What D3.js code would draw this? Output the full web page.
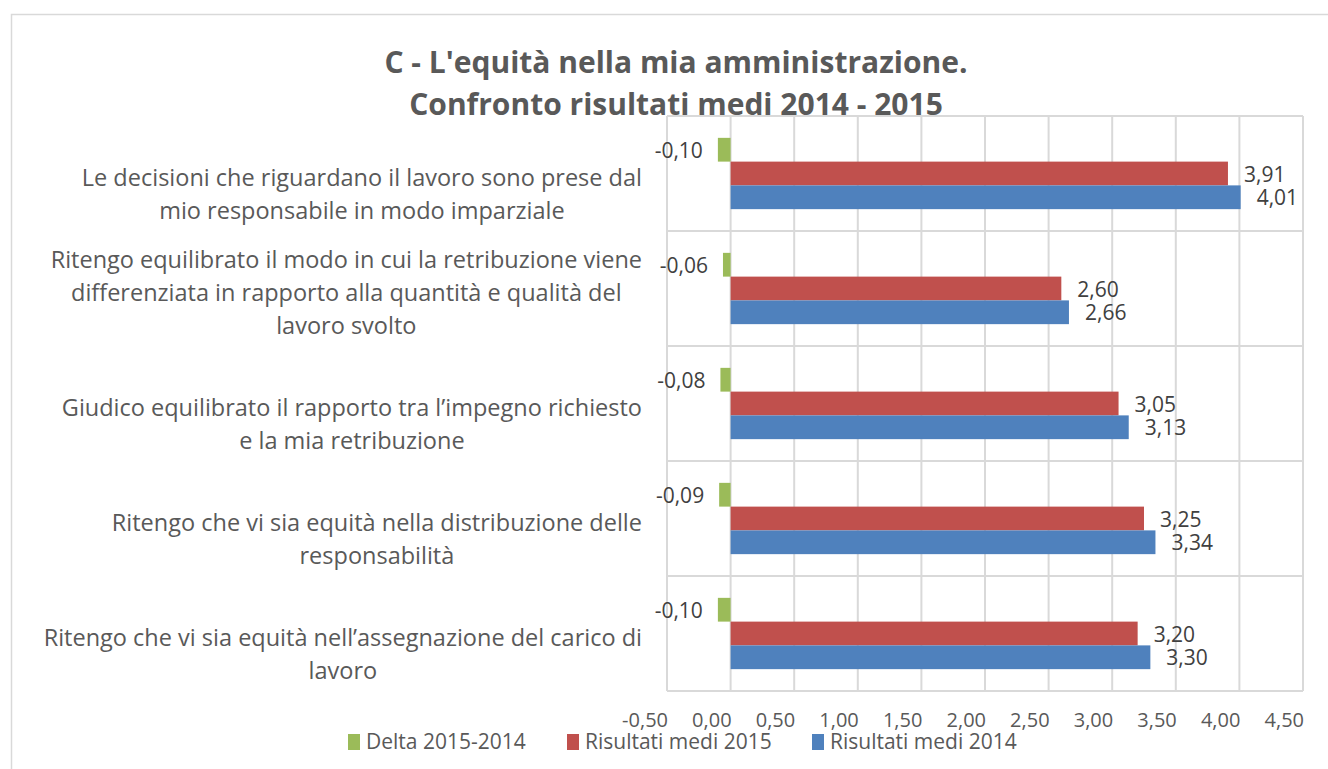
<!DOCTYPE html>
<html>
<head>
<meta charset="utf-8">
<script src="https://cdn.jsdelivr.net/npm/d3@7"></script>
<style>
  body { margin: 0; background: #fff; }
  text { font-family: "Open Sans", sans-serif; }
</style>
</head>
<body>
<script>
// dati
const categories = [
    ["Le decisioni che riguardano il lavoro sono prese dal", "mio responsabile in modo imparziale"],
    ["Ritengo equilibrato il modo in cui la retribuzione viene", "differenziata in rapporto alla quantità e qualità del", "lavoro svolto"],
    ["Giudico equilibrato il rapporto tra l’impegno richiesto", "e la mia retribuzione"],
    ["Ritengo che vi sia equità nella distribuzione delle", "responsabilità"],
    ["Ritengo che vi sia equità nell’assegnazione del carico di", "lavoro"]
]
const seriesNames = ["Delta 2015-2014", "Risultati medi 2015", "Risultati medi 2014"]
const delta = [-0.10, -0.06, -0.08, -0.09, -0.10]
const medi2015 = [3.91, 2.60, 3.05, 3.25, 3.20]
const medi2014 = [4.01, 2.66, 3.13, 3.34, 3.30]
const colors = ["#9BBB59", "#C0504D", "#4F81BD"]
const xDomain = [-0.5, 4.5]
const titleLines = ["C - L'equità nella mia amministrazione.", "Confronto risultati medi 2014 - 2015"]

const width = 1328, height = 769
const plot = { left: 667, right: 1303, top: 116, bottom: 691 }

const it = d3.formatLocale({ decimal: ",", thousands: ".", grouping: [3], currency: ["", "€"], minus: "-" })
const fmt = it.format(".2f")

const svg = d3.select("body").append("svg")
    .attr("width", width)
    .attr("height", height)

// cornice del grafico
svg.append("rect")
    .attr("x", 11.5).attr("y", 14.5)
    .attr("width", 1340).attr("height", 780)
    .attr("fill", "#fff")
    .attr("stroke", "#D9D9D9")
    .attr("stroke-width", 1.5)

const x = d3.scaleLinear().domain(xDomain).range([plot.left, plot.right])
const catIdx = d3.range(categories.length)
const y0 = d3.scaleBand().domain(catIdx).range([plot.top, plot.bottom])
const groupH = y0.bandwidth() * 0.62
const y1 = d3.scaleBand().domain(d3.range(seriesNames.length))
    .range([(y0.bandwidth() - groupH) / 2, (y0.bandwidth() + groupH) / 2])

// griglia
const ticks = d3.range(xDomain[0], xDomain[1] + 0.001, 0.5)
svg.append("g").selectAll("line")
    .data(ticks)
    .join("line")
    .attr("x1", d => x(d)).attr("x2", d => x(d))
    .attr("y1", plot.top).attr("y2", plot.bottom)
    .attr("stroke", "#D9D9D9")
    .attr("stroke-width", 2)

const bounds = catIdx.map(i => y0(i)).concat([plot.bottom])
svg.append("g").selectAll("line")
    .data(bounds)
    .join("line")
    .attr("x1", plot.left).attr("x2", plot.right)
    .attr("y1", d => d).attr("y2", d => d)
    .attr("stroke", "#D9D9D9")
    .attr("stroke-width", 2)

// etichette asse x (allineate a destra come nell'originale)
svg.append("g").selectAll("text")
    .data(ticks)
    .join("text")
    .attr("x", d => x(d) + 1)
    .attr("y", 727)
    .attr("text-anchor", "end")
    .attr("font-size", 20)
    .attr("fill", "#595959")
    .text(d => fmt(d))

// barre
const rows = catIdx.map(i => [delta[i], medi2015[i], medi2014[i]])
const groups = svg.append("g").selectAll("g")
    .data(rows)
    .join("g")
    .attr("transform", (d, i) => `translate(0, ${y0(i)})`)

groups.selectAll("rect")
    .data(d => d)
    .join("rect")
    .attr("x", d => x(Math.min(0, d)))
    .attr("y", (d, j) => y1(j))
    .attr("width", d => Math.abs(x(d) - x(0)))
    .attr("height", y1.bandwidth())
    .attr("fill", (d, j) => colors[j])

groups.selectAll("text")
    .data(d => d)
    .join("text")
    .attr("x", d => d < 0 ? x(d) - 15 : x(d) + 16)
    .attr("y", (d, j) => y1(j) + y1.bandwidth() / 2 + 8)
    .attr("text-anchor", d => d < 0 ? "end" : "start")
    .attr("font-size", 21)
    .attr("fill", "#404040")
    .text(d => fmt(d))

// etichette categorie: blocco allineato a destra, righe centrate, in basso nella fascia
const lineH = 33
categories.forEach((lines, i) => {
    const g = svg.append("g")
    const texts = g.selectAll("text")
        .data(lines)
        .join("text")
        .attr("font-size", 23.5)
        .attr("fill", "#595959")
        .attr("text-anchor", "middle")
        .text(d => d)
    let maxW = 0
    texts.each(function () { maxW = Math.max(maxW, this.getComputedTextLength()) })
    const cx = 642 - maxW / 2
    const lastY = y0(i) + y0.bandwidth() - 12
    texts.attr("x", cx)
        .attr("y", (d, k) => lastY - (lines.length - 1 - k) * lineH)
})

// titolo
svg.append("g").selectAll("text")
    .data(titleLines)
    .join("text")
    .attr("x", 676)
    .attr("y", (d, i) => 73 + i * 42)
    .attr("text-anchor", "middle")
    .attr("font-size", 30)
    .attr("font-weight", "bold")
    .attr("fill", "#595959")
    .text(d => d)

// legenda
const legendX = [348, 567, 812]
const legend = svg.append("g").selectAll("g")
    .data(seriesNames)
    .join("g")
    .attr("transform", (d, i) => `translate(${legendX[i]}, 734)`)
legend.append("rect")
    .attr("width", 12).attr("height", 16)
    .attr("fill", (d, i) => colors[i])
legend.append("text")
    .attr("x", 18).attr("y", 15)
    .attr("font-size", 21)
    .attr("fill", "#595959")
    .text(d => d)
</script>
</body>
</html>
